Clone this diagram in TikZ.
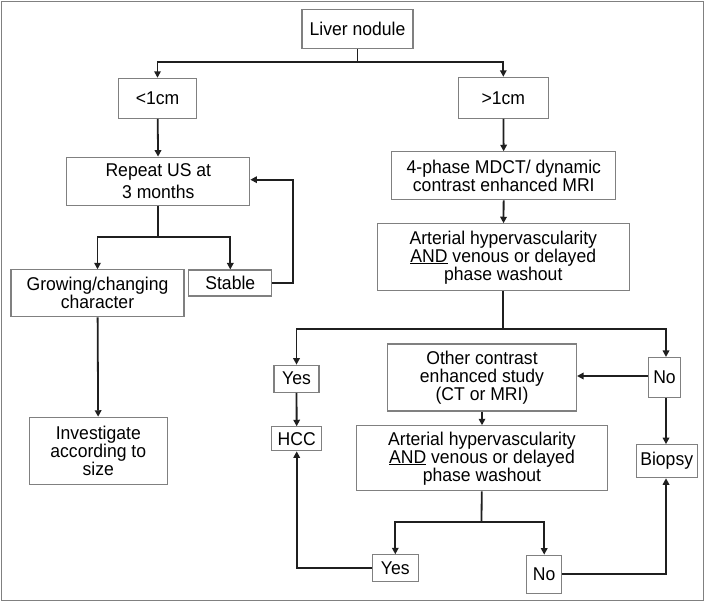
\documentclass[tikz,border=0pt]{standalone}
\usepackage{fontspec}
\setmainfont{Liberation Sans}[FakeStretch=0.95]
\usetikzlibrary{arrows.meta}
\colorlet{boxgray}{black!50}
\colorlet{linegray}{black!88}

\tikzset{
    flowbox/.style={draw=boxgray, line width=1.1pt, align=center, inner sep=0pt,
        font=\fontsize{18.5}{18}\selectfont},
    flowline/.style={draw=linegray, line width=1.8pt},
    flowarr/.style={flowline, -{Triangle[length=6.5pt,width=6.5pt]}}
}

\begin{document}
\begin{tikzpicture}[x=1pt, y=-1pt]

    \useasboundingbox (0,0) rectangle (708,602);
    % outer frame
    \draw[boxgray, line width=1.4pt] (1.5,1.5) rectangle (703.5,600.5);

    % top and left branch
    \node[flowbox, minimum width=111, minimum height=39] (liver) at (357.5,29) {Liver nodule};
    \node[flowbox, minimum width=78, minimum height=40] (small) at (157.5,98.3) {<1cm};
    \node[flowbox, minimum width=90, minimum height=41] (large) at (503.3,97.8) {>1cm};
    \node[flowbox, minimum width=183, minimum height=48,
        font=\fontsize{18.5}{21.5}\selectfont] (repeat) at (158.3,181.2) {Repeat US at\\3 months};
    \node[flowbox, minimum width=173, minimum height=47] (grow) at (97.5,293.3) {Growing/changing\\character};
    \node[flowbox, minimum width=83, minimum height=26] (stable) at (230.3,283) {Stable};
    \node[flowbox, minimum width=138, minimum height=67,
        font=\fontsize{18.5}{17.2}\selectfont] (invest) at (98.3,450.8) {Investigate\\according to\\size};

    % right branch
    \node[flowbox, minimum width=224, minimum height=48,
        font=\fontsize{18.5}{16.8}\selectfont] (mdct) at (503.8,175.8) {4-phase MDCT/ dynamic\\contrast enhanced MRI};
    \node[flowbox, minimum width=252, minimum height=67] (wash) at (503.3,257.3)
        {Arterial hypervascularity\\\underline{AND} venous or delayed\\phase washout};
    \node[flowbox, minimum width=45, minimum height=27] (yesA) at (296.5,378.7) {Yes};
    \node[flowbox, minimum width=50, minimum height=24] (hcc) at (296.7,438.8) {HCC};
    \node[flowbox, minimum width=32, minimum height=40] (noA) at (664.5,377.5) {No};
    \node[flowbox, minimum width=189, minimum height=67] (other) at (482,377.5)
        {Other contrast\\enhanced study\\(CT or MRI)};
    \node[flowbox, minimum width=61, minimum height=33] (biopsy) at (666.7,461.2) {Biopsy};
    \node[flowbox, minimum width=251, minimum height=65] (washB) at (482,458.3)
        {Arterial hypervascularity\\\underline{AND} venous or delayed\\phase washout};
    \node[flowbox, minimum width=46, minimum height=27] (yesB) at (395.3,568.3) {Yes};
    \node[flowbox, minimum width=35, minimum height=38] (noB) at (544.2,574.2) {No};

    % split points
    \coordinate (splitTop) at (357.5,61.7);
    \coordinate (splitUS) at (158.3,237.3);
    \coordinate (splitWash) at (503.3,329);
    \coordinate (splitWashB) at (481.5,521.7);
    \coordinate (loop) at (293.3,0);

    % connectors
    \draw[flowline] (liver) -- (splitTop);
    \draw[flowarr] (splitTop) -| (small.north);
    \draw[flowarr] (splitTop) -| (large.north);
    \draw[flowarr] (small) -- (repeat);
    \draw[flowline] (repeat) -- (splitUS);
    \draw[flowarr] (splitUS) -| (grow.north);
    \draw[flowarr] (splitUS) -| (stable.north);
    \draw[flowarr] (stable.east) -- (stable.east -| loop) |- ([yshift=1.5]repeat.east);
    \draw[flowarr] (grow) -- (invest);

    \draw[flowarr] (large) -- (mdct);
    \draw[flowarr] (mdct) -- (wash);
    \draw[flowline] (wash) -- (splitWash);
    \draw[flowarr] (splitWash) -| (yesA.north);
    \draw[flowarr] (splitWash) -| ([xshift=1.5]noA.north);
    \draw[flowarr] (yesA) -- (hcc);
    \draw[flowarr] ([yshift=1.5]noA.west) -- ([yshift=1.5]other.east);
    \draw[flowarr] ([xshift=1.5]noA.south) -- ([xshift=-0.7]biopsy.north);
    \draw[flowarr] (other) -- (washB);
    \draw[flowline] (washB) -- (splitWashB);
    \draw[flowarr] (splitWashB) -| (yesB.north);
    \draw[flowarr] (splitWashB) -| (noB.north);
    \draw[flowarr] (noB.east) -| ([xshift=-0.7]biopsy.south);
    \draw[flowarr] (yesB.west) -| (hcc.south);

\end{tikzpicture}
\end{document}
